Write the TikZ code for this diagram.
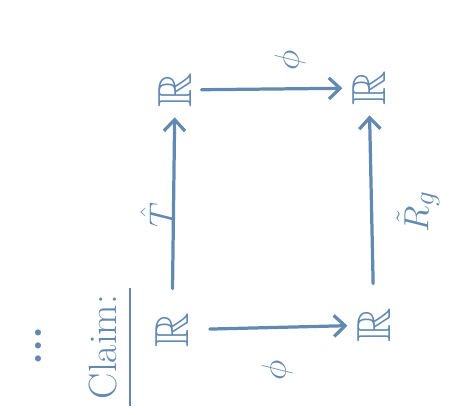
\documentclass[tikz,border=0pt]{standalone}
\usepackage{amssymb}
\usetikzlibrary{arrows.meta}
\definecolor{ink}{RGB}{98,137,178}
\begin{document}
\begin{tikzpicture}[x=0.025cm,y=-0.025cm,ink,line width=2.3pt,
  obj/.style={rotate=90,font=\fontsize{34}{40}\selectfont,inner sep=6pt},
  lbl/.style={rotate=90,font=\fontsize{28}{34}\selectfont},
  map/.style={-{Straight Barb[length=8pt,width=15pt]},line cap=round}]
\useasboundingbox (0,0) rectangle (472,414);
% the square
\node[obj] (bl) at (172,330) {$\mathbb{R}$};
\node[obj] (br) at (374,325) {$\mathbb{R}$};
\node[obj] (tl) at (175,90) {$\mathbb{R}$};
\node[obj] (tr) at (369,88) {$\mathbb{R}$};
\draw[map,shorten <=8pt] (bl) -- (br);
\draw[map] (tl) -- (tr);
\draw[map,shorten <=10pt] (bl) -- (tl);
\draw[map,shorten <=10pt] (br) -- (tr);
\node[lbl] (phib) at (277,370) {$\phi$};
\node[lbl] (phit) at (290,60) {$\phi$};
\node[lbl] (that) at (157,215) {$\hat{T}$};
\node[lbl] (rg) at (418,212) {$\tilde{R}_g$};
% the claim
\node[lbl] (claim) at (103,347) {Claim:};
\coordinate (ul1) at (130,288);
\coordinate (ul2) at (130,406);
\draw[line width=1.6pt] (ul1) -- (ul2);
\node[lbl,font=\fontsize{30}{30}\bfseries] (dots) at (38,346) {...};
\end{tikzpicture}
\end{document}
